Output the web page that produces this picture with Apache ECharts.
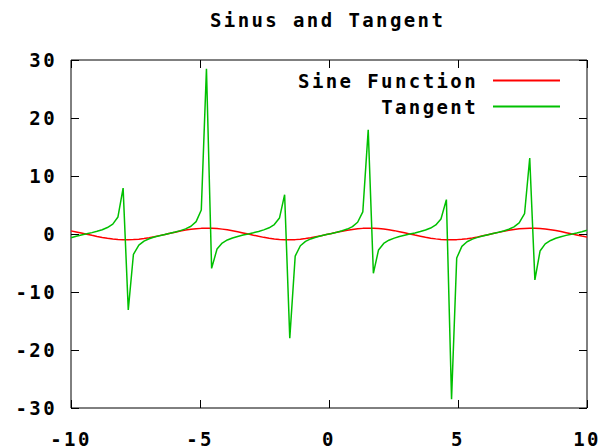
<!DOCTYPE html>
<html>
<head>
<meta charset="utf-8">
<script src="https://cdn.jsdelivr.net/npm/echarts@6/dist/echarts.min.js"></script>
<style>
    html, body { margin: 0; padding: 0; background: #fff; }
    #main { width: 609px; height: 448px; letter-spacing: 2.4px; }
</style>
</head>
<body>
<div id="main"></div>
<script>
// sample positions (100 samples, -10 .. 10)
var xValues = [-10.00, -9.80, -9.60, -9.39, -9.19, -8.99, -8.79, -8.59, -8.38, -8.18,
    -7.98, -7.78, -7.58, -7.37, -7.17, -6.97, -6.77, -6.57, -6.36, -6.16,
    -5.96, -5.76, -5.56, -5.35, -5.15, -4.95, -4.75, -4.55, -4.34, -4.14,
    -3.94, -3.74, -3.54, -3.33, -3.13, -2.93, -2.73, -2.53, -2.32, -2.12,
    -1.92, -1.72, -1.52, -1.31, -1.11, -0.91, -0.71, -0.51, -0.30, -0.10,
    0.10, 0.30, 0.51, 0.71, 0.91, 1.11, 1.31, 1.52, 1.72, 1.92,
    2.12, 2.32, 2.53, 2.73, 2.93, 3.13, 3.33, 3.54, 3.74, 3.94,
    4.14, 4.34, 4.55, 4.75, 4.95, 5.15, 5.35, 5.56, 5.76, 5.96,
    6.16, 6.36, 6.57, 6.77, 6.97, 7.17, 7.37, 7.58, 7.78, 7.98,
    8.18, 8.38, 8.59, 8.79, 8.99, 9.19, 9.39, 9.60, 9.80, 10.00];

// Sine Function
var sineValues = [0.54, 0.36, 0.17, -0.03, -0.23, -0.42, -0.59, -0.74, -0.86, -0.95,
    -0.99, -1.00, -0.96, -0.89, -0.78, -0.63, -0.47, -0.28, -0.08, 0.12,
    0.32, 0.50, 0.67, 0.80, 0.91, 0.97, 1.00, 0.99, 0.93, 0.84,
    0.72, 0.56, 0.38, 0.19, -0.01, -0.21, -0.40, -0.58, -0.73, -0.85,
    -0.94, -0.99, -1.00, -0.97, -0.90, -0.79, -0.65, -0.48, -0.30, -0.10,
    0.10, 0.30, 0.48, 0.65, 0.79, 0.90, 0.97, 1.00, 0.99, 0.94,
    0.85, 0.73, 0.58, 0.40, 0.21, 0.01, -0.19, -0.38, -0.56, -0.72,
    -0.84, -0.93, -0.99, -1.00, -0.97, -0.91, -0.80, -0.67, -0.50, -0.32,
    -0.12, 0.08, 0.28, 0.47, 0.63, 0.78, 0.89, 0.96, 1.00, 0.99,
    0.95, 0.86, 0.74, 0.59, 0.42, 0.23, 0.03, -0.17, -0.36, -0.54];

// Tangent
var tangentValues = [-0.65, -0.39, -0.17, 0.03, 0.24, 0.46, 0.74, 1.11, 1.71, 2.94,
    7.91, -13.10, -3.50, -1.92, -1.23, -0.82, -0.53, -0.29, -0.08, 0.12,
    0.34, 0.58, 0.89, 1.34, 2.13, 4.14, 28.49, -5.93, -2.59, -1.56,
    -1.03, -0.68, -0.42, -0.19, 0.01, 0.22, 0.44, 0.71, 1.07, 1.63,
    2.75, 6.78, -17.96, -3.80, -2.02, -1.28, -0.85, -0.55, -0.31, -0.10,
    0.10, 0.31, 0.55, 0.85, 1.28, 2.02, 3.80, 17.96, -6.78, -2.75,
    -1.63, -1.07, -0.71, -0.44, -0.22, -0.01, 0.19, 0.42, 0.68, 1.03,
    1.56, 2.59, 5.93, -28.49, -4.14, -2.13, -1.34, -0.89, -0.58, -0.34,
    -0.12, 0.08, 0.29, 0.53, 0.82, 1.23, 1.92, 3.50, 13.10, -7.91,
    -2.94, -1.71, -1.11, -0.74, -0.46, -0.24, -0.03, 0.17, 0.39, 0.65];

var xTicks = [-10, -5, 0, 5, 10];
var yTicks = [-30, -20, -10, 0, 10, 20, 30];
var seriesNames = ['Sine Function', 'Tangent'];

var font = 'DejaVu Sans Mono';

function pairs(ys) {
    var out = [];
    for (var i = 0; i < xValues.length; i++) {
        out.push([xValues[i], ys[i]]);
    }
    return out;
}

var chart = echarts.init(document.getElementById('main'), null, {renderer: 'svg'});

var tickStyle = {show: true, inside: true, length: 8, lineStyle: {color: '#000', width: 1}};

var option = {
    animation: false,
    backgroundColor: '#fff',
    title: {
        text: 'Sinus and Tangent',
        left: 210,
        top: 10,
        padding: 0,
        textStyle: {fontFamily: font, fontSize: 19, fontWeight: 'bold', color: '#000'}
    },
    legend: {
        data: seriesNames,
        orient: 'vertical',
        align: 'right',
        right: 49,
        top: 71,
        padding: 0,
        icon: 'rect',
        itemWidth: 67,
        itemHeight: 2,
        itemGap: 7,
        textStyle: {fontFamily: font, fontSize: 19, fontWeight: 'bold', color: '#000', padding: [0, 10, 0, 0]}
    },
    grid: {
        left: 71, right: 22, top: 60, bottom: 38,
        show: true, borderColor: '#000', borderWidth: 1
    },
    xAxis: [{
        type: 'value',
        min: xTicks[0], max: xTicks[xTicks.length - 1], interval: 5,
        axisLine: {show: false, onZero: false},
        axisTick: tickStyle,
        splitLine: {show: false},
        axisLabel: {fontFamily: font, fontSize: 19, fontWeight: 'bold', color: '#000', margin: 21}
    }, {
        type: 'value', position: 'top',
        min: xTicks[0], max: xTicks[xTicks.length - 1], interval: 5,
        axisLine: {show: false, onZero: false},
        axisTick: tickStyle,
        splitLine: {show: false},
        axisLabel: {show: false}
    }],
    yAxis: [{
        type: 'value',
        min: yTicks[0], max: yTicks[yTicks.length - 1], interval: 10,
        axisLine: {show: false, onZero: false},
        axisTick: tickStyle,
        splitLine: {show: false},
        axisLabel: {fontFamily: font, fontSize: 19, fontWeight: 'bold', color: '#000', margin: 14, padding: [7, 0, 0, 0]}
    }, {
        type: 'value', position: 'right',
        min: yTicks[0], max: yTicks[yTicks.length - 1], interval: 10,
        axisLine: {show: false, onZero: false},
        axisTick: tickStyle,
        splitLine: {show: false},
        axisLabel: {show: false}
    }],
    series: [{
        name: seriesNames[0],
        type: 'line',
        data: pairs(sineValues),
        symbol: 'none',
        lineStyle: {color: '#ff0000', width: 1.5},
        itemStyle: {color: '#ff0000'}
    }, {
        name: seriesNames[1],
        type: 'line',
        data: pairs(tangentValues),
        symbol: 'none',
        lineStyle: {color: '#00c000', width: 1.5},
        itemStyle: {color: '#00c000'}
    }]
};

chart.setOption(option);
</script>
</body>
</html>
